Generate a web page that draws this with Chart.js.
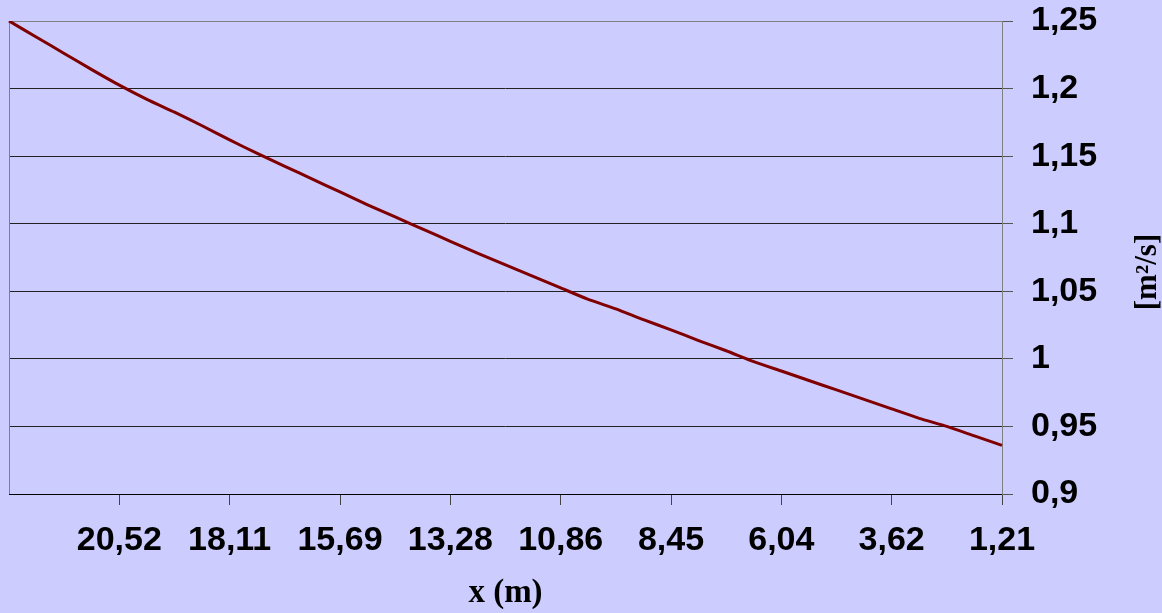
<!DOCTYPE html>
<html>
<head>
<meta charset="utf-8">
<script src="https://cdn.jsdelivr.net/npm/chart.js@4/dist/chart.umd.min.js"></script>
<style>
  html, body { margin: 0; padding: 0; background: #ccccff; }
  #wrap { width: 1162px; height: 613px; position: relative; }
</style>
</head>
<body>
<div id="wrap"><canvas id="grafico"></canvas></div>
<script>
// x positions (m); only every fourth category carries a label
const categorias = [
  "", "", "", "", "20,52", "", "", "", "18,11", "", "", "", "15,69",
  "", "", "", "13,28", "", "", "", "10,86", "", "", "", "8,45",
  "", "", "", "6,04", "", "", "", "3,62", "", "", "", "1,21"
];
const valores = [
  1.250, 1.238, 1.226, 1.214, 1.2025, 1.192, 1.1825, 1.1725, 1.162,
  1.152, 1.1425, 1.133, 1.1235, 1.114, 1.105, 1.096, 1.087, 1.078,
  1.0695, 1.061, 1.0525, 1.044, 1.037, 1.029, 1.0215, 1.0135, 1.006,
  0.998, 0.991, 0.984, 0.977, 0.970, 0.963, 0.956, 0.950, 0.943, 0.936
];
const yMin = 0.9, yMax = 1.25, yPaso = 0.05;
const tituloX = "x (m)";
const tituloY = "[m²/s]";

const fuenteNum = { family: "Arial, 'Liberation Sans', sans-serif", size: 34, weight: "bold" };
const fuenteTit = "bold 31px 'Liberation Serif', 'Times New Roman', serif";

const marco = {
  id: "marco",
  beforeDatasetsDraw(chart) {
    const a = chart.chartArea, c = chart.ctx;
    c.save();
    c.strokeStyle = "#808080";
    c.lineWidth = 1;
    c.beginPath();
    c.moveTo(a.left + 0.5, a.bottom);
    c.lineTo(a.left + 0.5, a.top + 0.5);
    c.lineTo(a.right, a.top + 0.5);
    c.stroke();
    c.restore();
  },
  afterDraw(chart) {
    const c = chart.ctx;
    c.save();
    c.translate(1148, 272);
    c.rotate(-Math.PI / 2);
    c.font = fuenteTit;
    c.fillStyle = "#000";
    c.textAlign = "center";
    c.textBaseline = "middle";
    c.fillText(tituloY, 0, 0);
    c.restore();
  }
};

new Chart(document.getElementById("grafico").getContext("2d"), {
  type: "line",
  data: {
    labels: categorias,
    datasets: [{
      data: valores,
      borderColor: "#800000",
      borderWidth: 3,
      pointRadius: 0,
      tension: 0.2,
      fill: false
    }]
  },
  options: {
    responsive: true,
    maintainAspectRatio: false,
    animation: false,
    layout: { padding: { left: 9, top: 21, right: 0, bottom: 0 } },
    plugins: { legend: { display: false }, tooltip: { enabled: false } },
    scales: {
      x: {
        type: "category",
        offset: false,
        afterFit(s) { s.height = 119; s.paddingLeft = 0; s.paddingRight = 0; },
        border: { color: "#000", width: 1 },
        grid: {
          drawOnChartArea: false,
          tickLength: 11,
          tickColor: (ctx) => (ctx.tick && ctx.tick.label !== "" ? "#444" : "rgba(0,0,0,0)")
        },
        ticks: {
          autoSkip: false,
          maxRotation: 0,
          color: "#000",
          font: fuenteNum,
          padding: 15
        },
        title: {
          display: true,
          text: tituloX,
          color: "#000",
          font: { family: "'Liberation Serif', 'Times New Roman', serif", size: 33, weight: "bold" },
          padding: { top: 5, bottom: 0 }
        }
      },
      y: {
        position: "right",
        min: yMin,
        max: yMax,
        afterFit(s) { s.width = 160; s.paddingTop = 0; s.paddingBottom = 0; },
        border: { color: "#808080", width: 1 },
        grid: {
          color: (ctx) => (ctx.tick && ctx.tick.value >= yMax ? "#808080" : "#222"),
          tickColor: "#555",
          tickLength: 11
        },
        ticks: {
          stepSize: yPaso,
          color: "#000",
          font: fuenteNum,
          padding: 18,
          callback: (v) => String(Number(v.toFixed(2))).replace(".", ",")
        }
      }
    }
  },
  plugins: [marco]
});
</script>
</body>
</html>
